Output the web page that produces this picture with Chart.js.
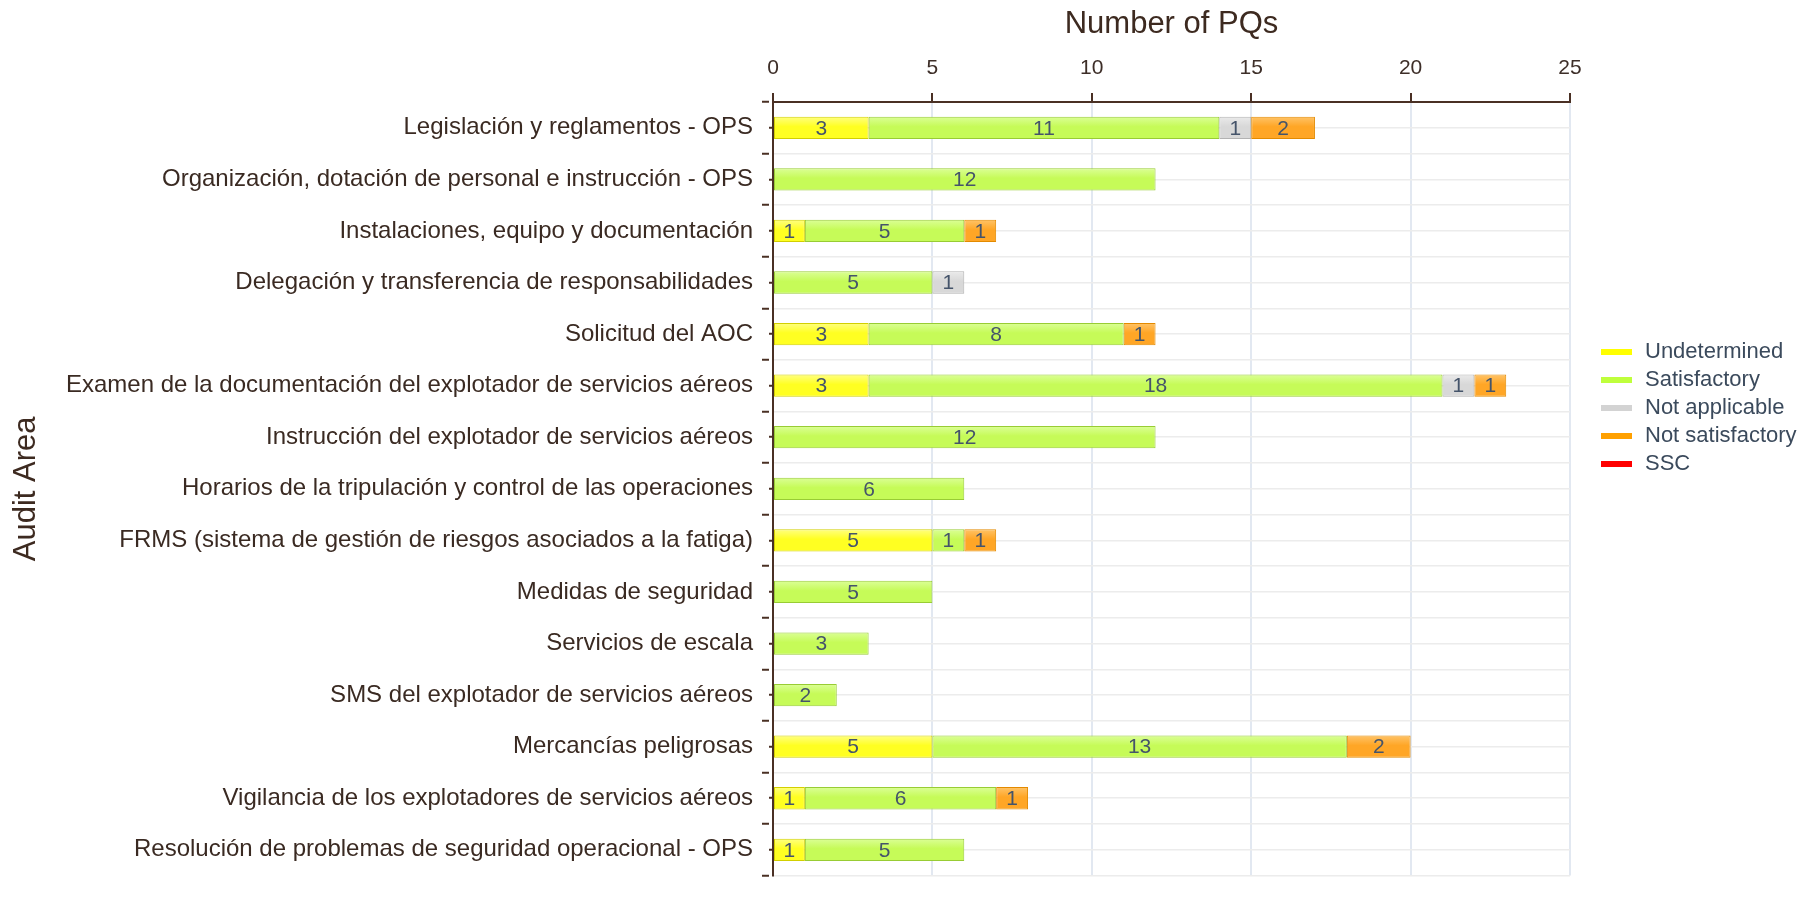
<!DOCTYPE html>
<html>
<head>
<meta charset="utf-8">
<script src="https://cdn.jsdelivr.net/npm/chart.js@4/dist/chart.umd.min.js"></script>
<style>
  html, body { margin: 0; padding: 0; background: #fff; overflow: hidden; }
  #wrap { width: 1812px; height: 899px; position: relative; }
</style>
</head>
<body>
<div id="wrap"><canvas id="pqChart"></canvas></div>
<script>
const categories = [
    'Legislación y reglamentos - OPS',
    'Organización, dotación de personal e instrucción - OPS',
    'Instalaciones, equipo y documentación',
    'Delegación y transferencia de responsabilidades',
    'Solicitud del AOC',
    'Examen de la documentación del explotador de servicios aéreos',
    'Instrucción del explotador de servicios aéreos',
    'Horarios de la tripulación y control de las operaciones',
    'FRMS (sistema de gestión de riesgos asociados a la fatiga)',
    'Medidas de seguridad',
    'Servicios de escala',
    'SMS del explotador de servicios aéreos',
    'Mercancías peligrosas',
    'Vigilancia de los explotadores de servicios aéreos',
    'Resolución de problemas de seguridad operacional - OPS'
];

const undetermined    = [3, null, 1, null, 3, 3, null, null, 5, null, null, null, 5, 1, 1];
const satisfactory    = [11, 12, 5, 5, 8, 18, 12, 6, 1, 5, 3, 2, 13, 6, 5];
const notApplicable   = [1, null, null, 1, null, 1, null, null, null, null, null, null, null, null, null];
const notSatisfactory = [2, null, 1, null, 1, 1, null, null, 1, null, null, null, 2, 1, null];
const ssc             = [null, null, null, null, null, null, null, null, null, null, null, null, null, null, null];

const xTicks = [0, 5, 10, 15, 20, 25];

const brown = '#4a3024';
Chart.defaults.font.family = '"Liberation Sans", Arial, sans-serif';

// numbers inside the bar segments
const segmentLabels = {
    id: 'segmentLabels',
    afterDatasetsDraw(chart) {
        const ctx = chart.ctx;
        ctx.save();
        ctx.font = '21px "Liberation Sans", Arial, sans-serif';
        ctx.fillStyle = '#45546a';
        ctx.textAlign = 'center';
        ctx.textBaseline = 'middle';
        chart.data.datasets.forEach((ds, i) => {
            const meta = chart.getDatasetMeta(i);
            if (meta.hidden) return;
            meta.data.forEach((bar, j) => {
                const v = ds.data[j];
                if (!v) return;
                ctx.fillText(String(v), (bar.x + bar.base) / 2, bar.y + 1);
            });
        });
        ctx.restore();
    }
};

// legend swatch: short thick stripe, pushed right inside its slot
const swatch = ['#ffff00', '#bfff3c', '#d3d3d3', '#ffa000', '#ff0000'];
function stripe(color) {
    const c = document.createElement('canvas');
    c.width = 58;
    c.height = 6;
    const g = c.getContext('2d');
    g.fillStyle = color;
    g.fillRect(25, 0, 31, 6);
    return c;
}

// light-to-full vertical shading on each bar
function shade(top, bottom) {
    return ctx => {
        const ys = ctx.chart.scales.y;
        if (!ys || ctx.dataIndex === undefined) return bottom;
        const yc = ys.getPixelForValue(ctx.dataIndex);
        if (!isFinite(yc)) return bottom;
        const g = ctx.chart.ctx.createLinearGradient(0, yc - 12, 0, yc + 12);
        g.addColorStop(0, top);
        g.addColorStop(0.45, bottom);
        g.addColorStop(1, bottom);
        return g;
    };
}

function series(label, data, top, bottom, border) {
    return {
        label: label,
        data: data,
        backgroundColor: shade(top, bottom),
        borderColor: border,
        borderWidth: 1,
        borderSkipped: false,
        categoryPercentage: 0.9,
        barPercentage: 0.48
    };
}

new Chart(document.getElementById('pqChart'), {
    type: 'bar',
    data: {
        labels: categories,
        datasets: [
            series('Undetermined', undetermined, '#ffff8a', '#ffff22', '#d2cf00'),
            series('Satisfactory', satisfactory, '#ddff9c', '#c6fb58', '#98cc34'),
            series('Not applicable', notApplicable, '#ececec', '#d8d8d8', '#b2b2b2'),
            series('Not satisfactory', notSatisfactory, '#ffc66e', '#ffa626', '#e38a00'),
            series('SSC', ssc, '#ff6666', '#ff0000', '#cc0000')
        ]
    },
    options: {
        indexAxis: 'y',
        responsive: true,
        maintainAspectRatio: false,
        animation: false,
        scales: {
            x: {
                position: 'top',
                stacked: true,
                min: 0,
                max: 25,
                afterBuildTicks: s => { s.ticks = xTicks.map(v => ({ value: v })); },
                afterFit: s => { s.height = 102; s.paddingRight = 242; },
                title: {
                    display: true,
                    text: 'Number of PQs',
                    color: '#3d2a20',
                    font: { size: 31 },
                    padding: { top: 6, bottom: 0 }
                },
                ticks: { color: '#3d2e28', font: { size: 21 }, padding: 12, maxRotation: 0 },
                grid: { color: '#e2e8f1', lineWidth: 2, tickColor: brown, tickLength: 9, tickWidth: 2 },
                border: { display: true, color: brown, width: 2 }
            },
            y: {
                stacked: true,
                offset: true,
                weight: 1,
                afterFit: s => { s.width = 769; },
                title: {
                    display: true,
                    text: 'Audit Area',
                    color: '#3d2a20',
                    font: { size: 31 },
                    padding: { top: 8, bottom: 0 }
                },
                ticks: { color: '#3a2a22', font: { size: 24 }, padding: 9, autoSkip: false },
                grid: { offset: true, color: '#ececec', lineWidth: 1.5, tickColor: brown, tickLength: 7, tickWidth: 2 },
                border: { display: false }
            },
            y2: {
                type: 'category',
                labels: categories,
                position: 'left',
                offset: true,
                weight: 0,
                ticks: { display: false },
                grid: { offset: false, color: '#ececec', lineWidth: 1.5, tickColor: brown, tickLength: 4, tickWidth: 2 },
                border: { display: true, color: brown, width: 2 }
            }
        },
        plugins: {
            tooltip: { enabled: false },
            legend: {
                position: 'right',
                align: 'start',
                title: { display: true, text: ' ', font: { size: 10 }, padding: { top: 323, bottom: 0 } },
                labels: {
                    color: '#3b4a5c',
                    font: { size: 22 },
                    usePointStyle: true,
                    pointStyleWidth: 58,
                    padding: 6,
                    generateLabels: chart => Chart.defaults.plugins.legend.labels.generateLabels(chart)
                        .map((l, i) => Object.assign(l, { pointStyle: stripe(swatch[i]), lineWidth: 0 }))
                }
            }
        }
    },
    plugins: [segmentLabels]
});
</script>
</body>
</html>
